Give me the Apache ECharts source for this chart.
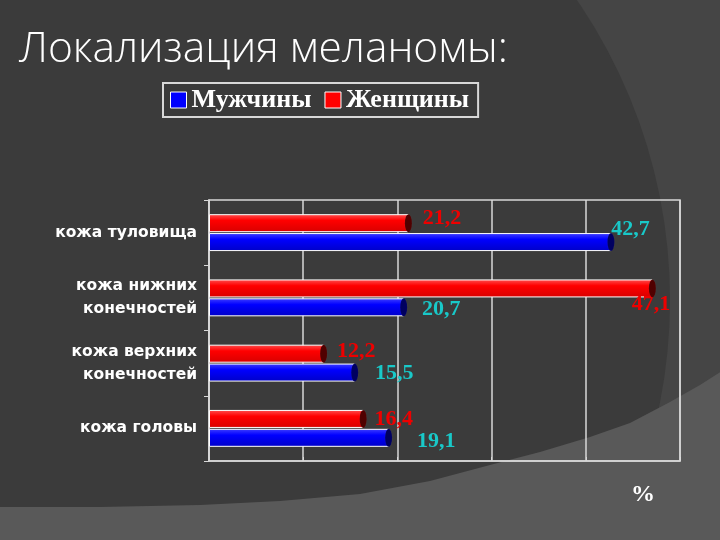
<!DOCTYPE html>
<html>
<head>
<meta charset="utf-8">
<script src="https://cdn.jsdelivr.net/npm/echarts@6/dist/echarts.min.js"></script>
<style>
  html, body { margin: 0; padding: 0; background: #3a3a3a; }
  #main { width: 720px; height: 540px; }
</style>
</head>
<body>
<div id="main"></div>
<script>
// данные слайда
var categories = ['кожа туловища', 'кожа нижних\nконечностей', 'кожа верхних\nконечностей', 'кожа головы']
var men = [42.7, 20.7, 15.5, 19.1]
var women = [21.2, 47.1, 12.2, 16.4]
var xTicks = [0, 10, 20, 30, 40, 50]

// сдвиги подписей как на слайде (px)
var menLabelShift = [[0, -13], [18, 2], [20, 1], [28, 3]]
var womenLabelShift = [[14, -5], [-21, 16], [13, -2], [11, 0]]

var chart = echarts.init(document.getElementById('main'))

function fmt(p) {
  return String(p.value).replace('.', ',')
}

function barData(vals, shifts) {
  return vals.map(function (v, i) {
    return { value: v, label: { offset: shifts[i] } }
  })
}

function grad(c1, c2, c3) {
  return new echarts.graphic.LinearGradient(0, 0, 0, 1, [
    { offset: 0, color: c1 },
    { offset: 0.35, color: c2 },
    { offset: 1, color: c3 }
  ])
}

var option = {
  backgroundColor: '#454545',
  animation: false,
  graphic: [
    // фон слайда: тёмный круг и светлая полоса снизу
    { type: 'circle', silent: true, z: -9, shape: { cx: 140, cy: 300, r: 530 }, style: { fill: '#3b3b3b' } },
    {
      type: 'polygon', silent: true, z: -8,
      shape: {
        points: [[-5, 507], [100, 507], [200, 505], [280, 501], [360, 494], [430, 481], [490, 465],
                 [540, 452], [590, 437], [630, 423], [670, 402], [700, 385], [725, 369], [725, 545], [-5, 545]]
      },
      style: { fill: '#595959' }
    },
    {
      type: 'text', left: 631, top: 483,
      style: { text: '%', fill: '#fff', font: 'bold 24px "Liberation Serif"' }
    }
  ],
  title: {
    text: 'Локализация меланомы:',
    left: 14,
    top: 23,
    textStyle: { color: '#fff', fontSize: 42.5, fontWeight: 300, fontFamily: 'Open Sans' }
  },
  legend: {
    left: 163,
    top: 83,
    padding: [4, 9, 4, 7],
    itemGap: 13,
    itemWidth: 16,
    itemHeight: 16,
    icon: 'rect',
    backgroundColor: '#3a3a3a',
    borderColor: '#d8d8d8',
    borderWidth: 2,
    borderRadius: 0,
    data: [
      { name: 'Мужчины', itemStyle: { color: '#0000ff', borderColor: '#fff', borderWidth: 1 } },
      { name: 'Женщины', itemStyle: { color: '#ff0000', borderColor: '#fff', borderWidth: 1 } }
    ],
    textStyle: { color: '#fff', fontSize: 26, fontWeight: 'bold', fontFamily: 'Liberation Serif' }
  },
  grid: {
    left: 209,
    right: 40,
    top: 200,
    bottom: 79,
    show: true,
    borderColor: '#d8d8d8',
    borderWidth: 1.5
  },
  xAxis: {
    type: 'value',
    min: xTicks[0],
    max: xTicks[xTicks.length - 1],
    interval: xTicks[1] - xTicks[0],
    axisLabel: { show: false },
    axisLine: { show: true, lineStyle: { color: '#d8d8d8', width: 1.5 } },
    axisTick: { show: true, inside: true, length: 4, lineStyle: { color: '#d8d8d8' } },
    splitLine: { lineStyle: { color: '#d8d8d8', width: 1.5 } }
  },
  yAxis: {
    type: 'category',
    inverse: true,
    data: categories,
    axisLine: { show: true, lineStyle: { color: '#d8d8d8', width: 1.5 } },
    axisTick: { show: true, length: 5, lineStyle: { color: '#d8d8d8' } },
    axisLabel: {
      color: '#fff',
      fontSize: 15.5,
      fontWeight: 'bold',
      fontFamily: 'DejaVu Sans',
      lineHeight: 23,
      margin: 12
    }
  },
  series: [
    {
      name: 'Женщины',
      type: 'bar',
      barWidth: 18,
      barGap: '5%',
      itemStyle: { color: grad('#ff5050', '#ff0000', '#d80000'), borderColor: '#fff', borderWidth: 1 },
      label: {
        show: true, position: 'right', distance: 0, formatter: fmt,
        color: '#ee0000', fontSize: 22, fontWeight: 'bold', fontFamily: 'Liberation Serif'
      },
      data: barData(women, womenLabelShift),
      z: 2
    },
    {
      name: 'Мужчины',
      type: 'bar',
      barWidth: 18,
      barGap: '5%',
      itemStyle: { color: grad('#4040ff', '#0000ff', '#0000c8'), borderColor: '#fff', borderWidth: 1 },
      label: {
        show: true, position: 'right', distance: 0, formatter: fmt,
        color: '#19c8c8', fontSize: 22, fontWeight: 'bold', fontFamily: 'Liberation Serif'
      },
      data: barData(men, menLabelShift),
      z: 2
    },
    // торцы "цилиндров"
    {
      name: 'торец Ж',
      type: 'pictorialBar',
      barWidth: 18,
      barGap: '5%',
      symbol: 'circle',
      symbolSize: [7, 18],
      symbolPosition: 'end',
      symbolOffset: ['50%', 0],
      itemStyle: { color: '#500000', borderColor: '#fff', borderWidth: 1 },
      data: women,
      z: 3
    },
    {
      name: 'торец М',
      type: 'pictorialBar',
      barWidth: 18,
      barGap: '5%',
      symbol: 'circle',
      symbolSize: [7, 18],
      symbolPosition: 'end',
      symbolOffset: ['50%', 0],
      itemStyle: { color: '#000060', borderColor: '#fff', borderWidth: 1 },
      data: men,
      z: 3
    }
  ]
}

chart.setOption(option)
</script>
</body>
</html>
